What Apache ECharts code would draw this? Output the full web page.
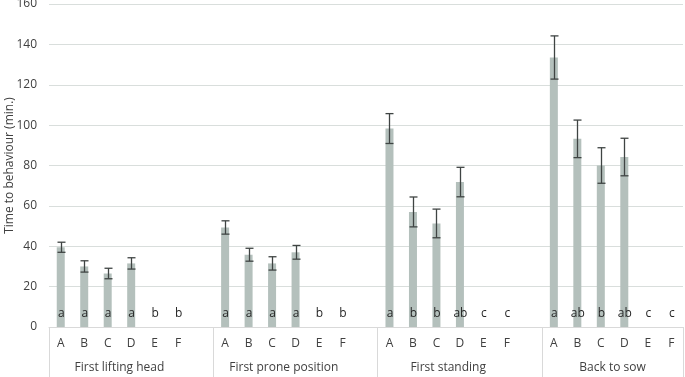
<!DOCTYPE html>
<html>
<head>
<meta charset="utf-8">
<script src="https://cdn.jsdelivr.net/npm/echarts@6/dist/echarts.min.js"></script>
<style>
	html, body { margin: 0; padding: 0; background: #fff; }
	#chart { width: 685px; height: 377px; }
</style>
</head>
<body>
<div id="chart"></div>
<script>
// 分組與處理
const groups = ["First lifting head", "First prone position", "First standing", "Back to sow"];
const treatments = ["A", "B", "C", "D", "E", "F"];

// 平均值 (min.)
const liftingMean = [39.5, 30, 26.5, 31.5, 0, 0];
const proneMean = [49.3, 35.8, 31.5, 37, 0, 0];
const standingMean = [98.3, 57, 51.3, 71.8, 0, 0];
const sowMean = [133.5, 93.2, 80, 84.2, 0, 0];

// 誤差
const liftingErr = [2.5, 2.8, 2.6, 2.8, null, null];
const proneErr = [3.3, 3.2, 3.3, 3.4, null, null];
const standingErr = [7.4, 7.4, 7.1, 7.3, null, null];
const sowErr = [10.7, 9.3, 8.8, 9.3, null, null];

// 顯著性字母
const liftingLetters = ["a", "a", "a", "a", "b", "b"];
const proneLetters = ["a", "a", "a", "a", "b", "b"];
const standingLetters = ["a", "b", "b", "ab", "c", "c"];
const sowLetters = ["a", "ab", "b", "ab", "c", "c"];

const yTicks = { min: 0, max: 160, interval: 20 };

var means = [liftingMean, proneMean, standingMean, sowMean];
var errs = [liftingErr, proneErr, standingErr, sowErr];
var letters = [liftingLetters, proneLetters, standingLetters, sowLetters];

// 每組之間留一個空類別
var cats = [], barData = [], errData = [], letterData = [], letterText = [];
var groupCenters = [], groupEdges = [-0.5];
means.forEach(function (m, g) {
	var start = cats.length;
	treatments.forEach(function (t, i) {
		var idx = cats.length;
		cats.push(t);
		barData.push(m[i]);
		if (errs[g][i] != null) errData.push([idx, m[i], errs[g][i]]);
		letterData.push([idx, 0]);
		letterText.push(letters[g][i]);
	});
	groupCenters.push(start + 2.5);
	if (g < means.length - 1) {
		cats.push("");
		barData.push(null);
		groupEdges.push(cats.length - 0.5);
	}
});
groupEdges.push(cats.length - 0.5);

var font = "Open Sans";
var txt = "#404040";
var myChart = echarts.init(document.getElementById("chart"), null, { renderer: "canvas" });
var option = {
	animation: false,
	textStyle: { fontFamily: font },
	grid: { left: 49, right: 2, top: 4, bottom: 50, outerBoundsMode: "none", containLabel: false },
	xAxis: [
		{
			type: "category",
			data: cats,
			axisLine: { lineStyle: { color: "#d9d9d9" } },
			axisTick: { show: false },
			axisLabel: { interval: 0, color: txt, fontSize: 12, margin: 11, fontFamily: font }
		},
		{
			// 第二層分組標籤
			type: "value",
			min: -0.5,
			max: cats.length - 0.5,
			position: "bottom",
			axisLine: { show: false },
			splitLine: { show: false },
			axisTick: {
				show: true,
				customValues: groupEdges,
				length: 50,
				lineStyle: { color: "#d9d9d9" }
			},
			axisLabel: {
				customValues: groupCenters,
				margin: 35,
				color: txt,
				fontSize: 12,
				fontFamily: font,
				formatter: function (v) {
					return groups[Math.floor(v / 7)];
				}
			}
		}
	],
	yAxis: {
		type: "value",
		min: yTicks.min,
		max: yTicks.max,
		interval: yTicks.interval,
		name: "Time to behaviour (min.)",
		nameLocation: "middle",
		nameGap: 33,
		nameMoveOverlap: false,
		nameTextStyle: { color: txt, fontSize: 12, fontFamily: font },
		axisLine: { show: false },
		axisTick: { show: false },
		axisLabel: { color: txt, fontSize: 12, margin: 12, fontFamily: font },
		splitLine: { lineStyle: { color: "#d9dedc" } }
	},
	series: [
		{
			type: "bar",
			data: barData,
			barWidth: 8,
			itemStyle: { color: "#b4c0bc" }
		},
		{
			// 誤差線
			type: "custom",
			data: errData,
			z: 3,
			renderItem: function (params, api) {
				var x = api.value(0), m = api.value(1), e = api.value(2);
				var top = api.coord([x, m + e]);
				var bot = api.coord([x, m - e]);
				var cx = Math.round(top[0]) + 0.5;
				var hw = 4;
				var style = { stroke: "#3f4443", lineWidth: 1.3 };
				return {
					type: "group",
					children: [
						{ type: "line", shape: { x1: cx, y1: top[1], x2: cx, y2: bot[1] }, style: style },
						{ type: "line", shape: { x1: cx - hw, y1: top[1], x2: cx + hw, y2: top[1] }, style: style },
						{ type: "line", shape: { x1: cx - hw, y1: bot[1], x2: cx + hw, y2: bot[1] }, style: style }
					]
				};
			}
		},
		{
			// 顯著性字母
			type: "custom",
			data: letterData,
			z: 4,
			renderItem: function (params, api) {
				var p = api.coord([api.value(0), api.value(1)]);
				return {
					type: "text",
					x: p[0] + 0.5,
					y: p[1] - 13,
					style: {
						text: letterText[params.dataIndex],
						fill: "#262626",
						font: "12px '" + font + "'",
						align: "center",
						verticalAlign: "middle"
					}
				};
			}
		}
	]
};
myChart.setOption(option);
window.addEventListener("resize", myChart.resize);
</script>
</body>
</html>
